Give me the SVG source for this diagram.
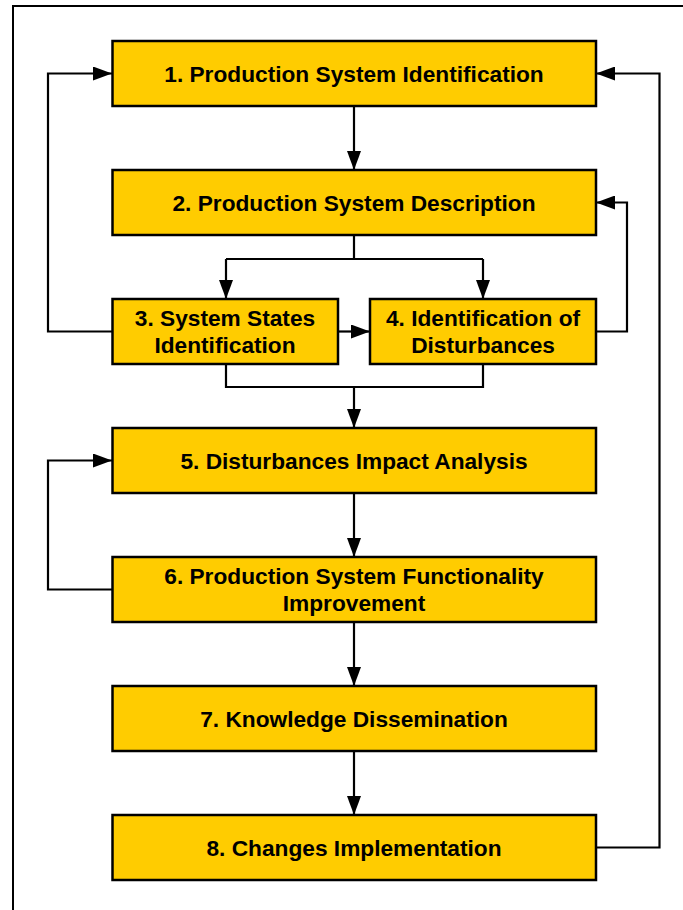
<svg xmlns="http://www.w3.org/2000/svg" width="683" height="910" viewBox="0 0 683 910">
  <defs>
    <style>
      .box { fill: #FFCC00; stroke: #000; stroke-width: 2.5; }
      .lbl { font-family: "Liberation Sans", Arial, sans-serif; font-weight: bold; font-size: 22.7px; fill: #000; text-anchor: middle; }
      .wire { fill: none; stroke: #000; stroke-width: 2.2; }
      .arrow { marker-end: url(#head); }
    </style>
    <marker id="head" markerUnits="userSpaceOnUse" markerWidth="19" markerHeight="14" refX="19" refY="7" orient="auto">
      <path d="M0,0 L19,7 L0,14 z" fill="#000"/>
    </marker>
  </defs>

  <rect width="683" height="910" fill="#fff"/>
  <!-- outer frame (open on right and bottom) -->
  <path d="M13,910 V6 H683" fill="none" stroke="#000" stroke-width="2"/>

  <g id="connectors">
    <path class="wire arrow" d="M354,106 V170"/>
    <path class="wire" d="M354,235 V259 M226,259 H483"/>
    <path class="wire arrow" d="M226,259 V299"/>
    <path class="wire arrow" d="M483,259 V299"/>
    <path class="wire arrow" d="M338,331.5 H370"/>
    <path class="wire arrow" d="M112,331.5 H48 V73.5 H112"/>
    <path class="wire arrow" d="M596,331.5 H627 V202.5 H596"/>
    <path class="wire" d="M226,364 V387 H483 V364"/>
    <path class="wire arrow" d="M354,387 V428"/>
    <path class="wire arrow" d="M354,493 V557"/>
    <path class="wire arrow" d="M112,589.5 H48 V460.5 H112"/>
    <path class="wire arrow" d="M354,622 V686"/>
    <path class="wire arrow" d="M354,751 V815"/>
    <path class="wire arrow" d="M596,847.5 H659.5 V73.5 H596"/>
  </g>

  <g id="n1">
    <rect class="box" x="112.5" y="41" width="483.5" height="65"/>
    <text class="lbl" x="354" y="81.5">1. Production System Identification</text>
  </g>
  <g id="n2">
    <rect class="box" x="112.5" y="170" width="483.5" height="65"/>
    <text class="lbl" x="354" y="210.5">2. Production System Description</text>
  </g>
  <g id="n3">
    <rect class="box" x="112.5" y="299" width="225.5" height="65"/>
    <text class="lbl" x="225" y="325.5">3. System States</text>
    <text class="lbl" x="225" y="352.5">Identification</text>
  </g>
  <g id="n4">
    <rect class="box" x="370" y="299" width="226" height="65"/>
    <text class="lbl" x="483" y="325.5">4. Identification of</text>
    <text class="lbl" x="483" y="352.5">Disturbances</text>
  </g>
  <g id="n5">
    <rect class="box" x="112.5" y="428" width="483.5" height="65"/>
    <text class="lbl" x="354" y="468.5">5. Disturbances Impact Analysis</text>
  </g>
  <g id="n6">
    <rect class="box" x="112.5" y="557" width="483.5" height="65"/>
    <text class="lbl" x="354" y="583.5">6. Production System Functionality</text>
    <text class="lbl" x="354" y="610.5">Improvement</text>
  </g>
  <g id="n7">
    <rect class="box" x="112.5" y="686" width="483.5" height="65"/>
    <text class="lbl" x="354" y="726.5">7. Knowledge Dissemination</text>
  </g>
  <g id="n8">
    <rect class="box" x="112.5" y="815" width="483.5" height="65"/>
    <text class="lbl" x="354" y="855.5">8. Changes Implementation</text>
  </g>
</svg>
